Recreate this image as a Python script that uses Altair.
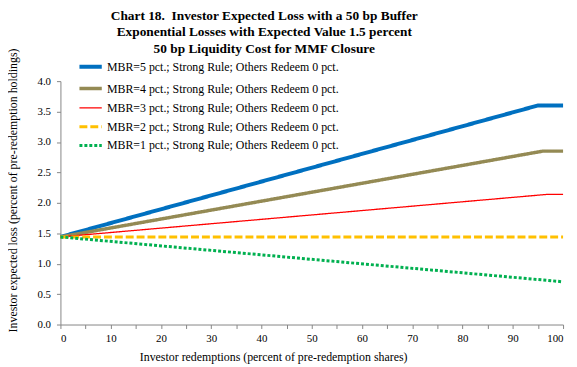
import altair as alt
import pandas as pd

series = [
    "MBR=5 pct.; Strong Rule; Others Redeem 0 pct.",
    "MBR=4 pct.; Strong Rule; Others Redeem 0 pct.",
    "MBR=3 pct.; Strong Rule; Others Redeem 0 pct.",
    "MBR=2 pct.; Strong Rule; Others Redeem 0 pct.",
    "MBR=1 pct.; Strong Rule; Others Redeem 0 pct.",
]
mbr5_x = [0, 95, 100]
mbr5_y = [1.44, 3.60, 3.60]
mbr4_x = [0, 96, 100]
mbr4_y = [1.44, 2.85, 2.85]
mbr3_x = [0, 97, 100]
mbr3_y = [1.44, 2.14, 2.14]
mbr2_x = [0, 100]
mbr2_y = [1.44, 1.44]
mbr1_x = [0, 99, 100]
mbr1_y = [1.44, 0.71, 0.70]

colors = ["#0070C0", "#948A54", "#FF0000", "#FFC000", "#00B050"]
widths = [4, 3.5, 1.3, 3, 3]
dashes = [[1, 0], [1, 0], [1, 0], [8, 3], [3, 2]]

rows = []
for name, xs, ys in zip(series,
                        [mbr5_x, mbr4_x, mbr3_x, mbr2_x, mbr1_x],
                        [mbr5_y, mbr4_y, mbr3_y, mbr2_y, mbr1_y]):
    for x, y in zip(xs, ys):
        rows.append({"series": name, "x": x, "y": y})
df = pd.DataFrame(rows)

FONT = "Liberation Serif"

chart = alt.Chart(df).mark_line(clip=False).encode(
    x=alt.X("x:Q", scale=alt.Scale(domain=[0, 100], nice=False),
            axis=alt.Axis(values=list(range(0, 101, 5)),
                          labelExpr="datum.value % 10 == 0 ? datum.label : ''",
                          title="Investor redemptions (percent of pre-redemption shares)",
                          titleX=215, titleY=36, titleBaseline="alphabetic",
                          titleAnchor="middle")),
    y=alt.Y("y:Q", scale=alt.Scale(domain=[0, 4], nice=False),
            axis=alt.Axis(values=[0, 0.5, 1, 1.5, 2, 2.5, 3, 3.5, 4], format=".1f",
                          title="Investor expected loss (percent of pre-redemption holdings)",
                          titleX=-41, titleY=110, titleAnchor="middle")),
    color=alt.Color("series:N", sort=series,
                    scale=alt.Scale(domain=series, range=colors), title=None),
    strokeDash=alt.StrokeDash("series:N", sort=series,
                              scale=alt.Scale(domain=series, range=dashes), title=None),
    strokeWidth=alt.StrokeWidth("series:N", sort=series,
                                scale=alt.Scale(type="ordinal", domain=series, range=widths),
                                title=None),
    detail="series:N",
).properties(
    width=508, height=246,
    title=alt.TitleParams(
        text=["Chart 18.\u00a0 Investor Expected Loss with a 50 bp Buffer",
              "Exponential Losses with Expected Value 1.5 percent",
              "50 bp Liquidity Cost for MMF Closure"],
        font=FONT, fontSize=13.5, fontWeight="bold", lineHeight=17,
        anchor="middle", frame="group", offset=-8, dx=-48, color="#000000"),
    autosize=alt.AutoSizeParams(type="none"),
    padding={"left": 53, "top": 72, "right": 6, "bottom": 40},
).configure_axis(
    grid=False, domainColor="#868686", tickColor="#868686", tickSize=4,
    labelFont=FONT, titleFont=FONT, labelFontSize=11, titleFontSize=12,
    labelColor="#000000", titleColor="#000000", titleFontWeight="normal",
    labelPadding=4,
).configure_axisY(labelPadding=6).configure_legend(
    orient="none", legendX=17, legendY=-28, labelFont=FONT, labelFontSize=12,
    labelColor="#000000", symbolType="stroke", symbolSize=510, rowPadding=0,
    labelOffset=3, labelLimit=0,
).configure_view(stroke=None)

chart.save("out.html", embed_options={"renderer": "svg", "actions": False})
